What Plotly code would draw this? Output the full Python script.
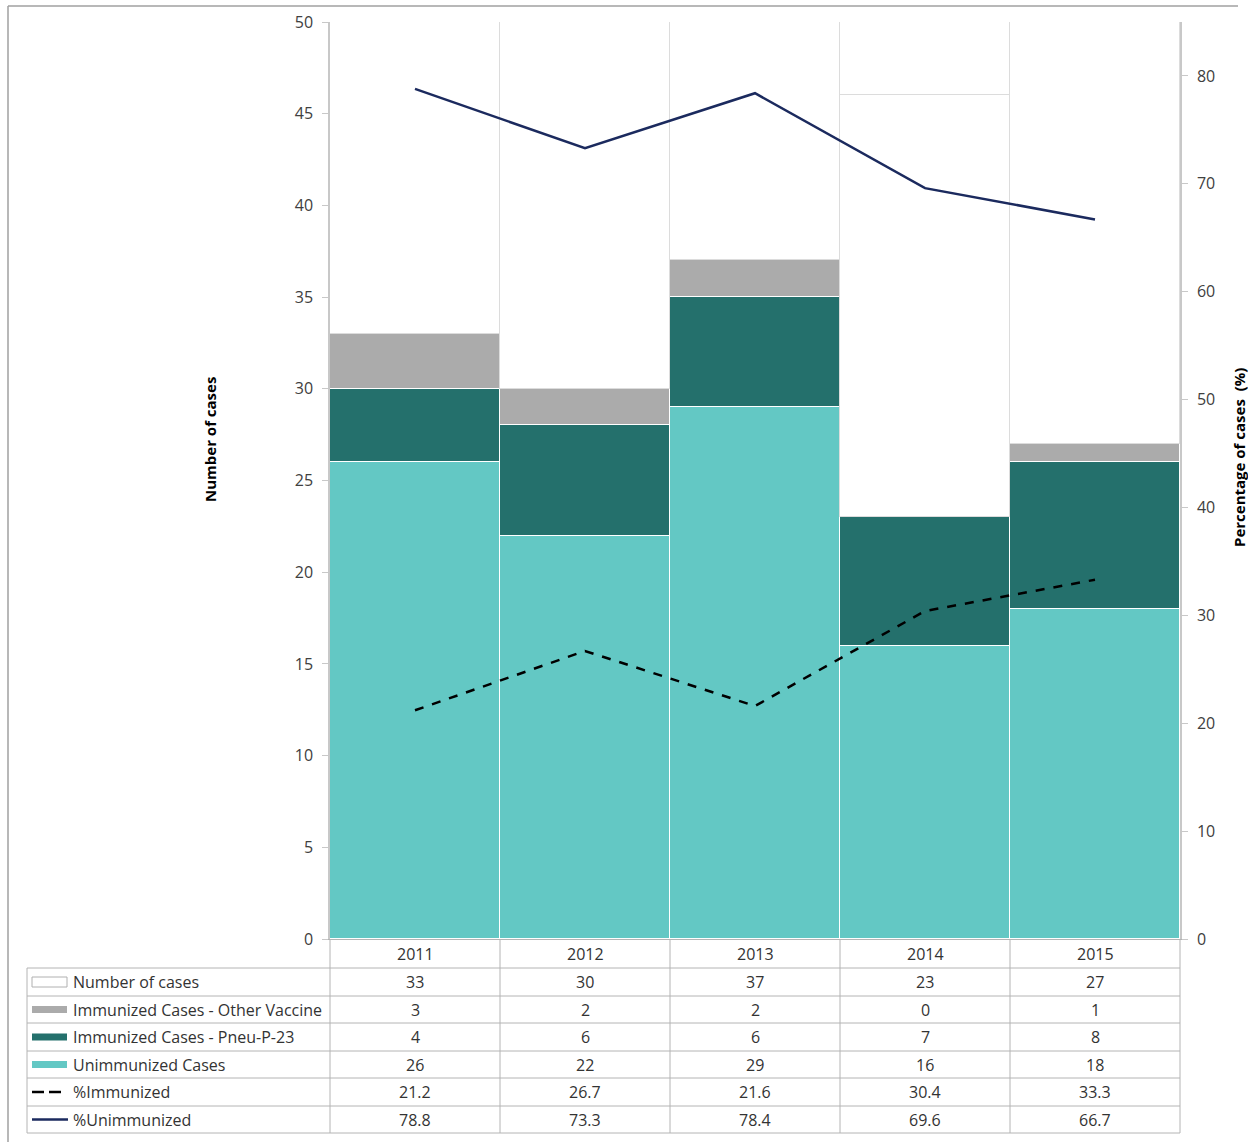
import plotly.graph_objects as go

years = ["2011", "2012", "2013", "2014", "2015"]
number_of_cases = [33, 30, 37, 23, 27]
immunized_other = [3, 2, 2, 0, 1]
immunized_pneu = [4, 6, 6, 7, 8]
unimmunized = [26, 22, 29, 16, 18]
pct_immunized = [21.2, 26.7, 21.6, 30.4, 33.3]
pct_unimmunized = [78.8, 73.3, 78.4, 69.6, 66.7]

W, H = 1248, 1142
def X(px): return px / W
def Y(py): return 1 - py / H

C_UNIMM = "#63C8C4"
C_PNEU = "#24706C"
C_OTHER = "#ABABAB"
C_NAVY = "#1B2A5E"
FONT = "Open Sans"

fig = go.Figure()
fig.add_bar(x=years, y=unimmunized, marker=dict(color=C_UNIMM, line=dict(color="white", width=1.5)), name="Unimmunized Cases")
fig.add_bar(x=years, y=immunized_pneu, marker=dict(color=C_PNEU, line=dict(color="white", width=1.5)), name="Immunized Cases - Pneu-P-23")
fig.add_bar(x=years, y=immunized_other, marker=dict(color=C_OTHER, line=dict(color="white", width=1.5)), name="Immunized Cases - Other Vaccine")
fig.add_bar(x=years, y=number_of_cases, marker=dict(color="white", line=dict(color="#DCDCDC", width=1)), name="Number of cases")
fig.add_scatter(x=years, y=pct_immunized, yaxis="y2", mode="lines",
                line=dict(color="black", width=2.5, dash="dash"), name="%Immunized")
fig.add_scatter(x=years, y=pct_unimmunized, yaxis="y2", mode="lines",
                line=dict(color=C_NAVY, width=2.5), name="%Unimmunized")

x_left, x_right = 330, 1180
y_top, y_bot = 22, 939

fig.update_layout(
    template="none",
    width=W, height=H, margin=dict(l=0, r=0, t=0, b=0, pad=0, autoexpand=False),
    paper_bgcolor="white", plot_bgcolor="white",
    barmode="stack", bargap=0, showlegend=False,
    font=dict(family=FONT, size=16, color="#404040"),
    xaxis=dict(domain=[X(x_left), X(x_right)], showticklabels=False, ticks="", automargin=False,
               showgrid=False, zeroline=False, showline=True, linecolor="#B4B4B4", linewidth=1),
    yaxis=dict(domain=[Y(y_bot), Y(y_top)], range=[0, 50], dtick=5, automargin=False,
               showgrid=False, zeroline=False, showline=True, linecolor="#C8C8C8",
               linewidth=1.5, ticks="outside", ticklen=6, tickcolor="#C8C8C8",
               ticklabelstandoff=6,
               tickfont=dict(size=16, color="#404040")),
    yaxis2=dict(overlaying="y", side="right", range=[0, 85], dtick=10, automargin=False,
                showgrid=False, zeroline=False, showline=True, linecolor="#C8C8C8",
                linewidth=1.5, ticks="outside", ticklen=6, tickcolor="#C8C8C8",
                ticklabelstandoff=6,
                tickfont=dict(size=16, color="#404040")),
)

shapes = []
ann = []

def text(px, py, s, size=16, color="#333333", xanchor="center", angle=0):
    ann.append(dict(x=X(px), y=Y(py), xref="paper", yref="paper", text=s, showarrow=False,
                    xanchor=xanchor, yanchor="middle", textangle=angle,
                    font=dict(size=size, color=color)))

# axis titles
text(210, 440, "<b>Number of cases</b>", size=15, color="black", angle=-90)
text(1239, 458, "<b>Percentage of cases  (%)</b>", size=15, color="black", angle=-90)

# outer frame
shapes.append(dict(type="line", xref="paper", yref="paper", x0=X(8), x1=X(1238), y0=Y(6), y1=Y(6),
                   line=dict(color="#A0A0A0", width=1.5)))
shapes.append(dict(type="line", xref="paper", yref="paper", x0=X(8), x1=X(8), y0=Y(6), y1=0,
                   line=dict(color="#A0A0A0", width=1.5)))

# table
col_edges = [330, 500, 670, 840, 1010, 1180]
row_edges = [968, 996, 1023, 1051, 1078, 1106, 1133]
TL = "#B4B4B4"
for ry in row_edges:
    shapes.append(dict(type="line", xref="paper", yref="paper", x0=X(27), x1=X(1180), y0=Y(ry), y1=Y(ry),
                       line=dict(color=TL, width=1)))
shapes.append(dict(type="line", xref="paper", yref="paper", x0=X(27), x1=X(27), y0=Y(968), y1=Y(1133),
                   line=dict(color=TL, width=1)))
for cx in col_edges:
    shapes.append(dict(type="line", xref="paper", yref="paper", x0=X(cx), x1=X(cx), y0=Y(939), y1=Y(1133),
                       line=dict(color=TL, width=1)))

# header years
for i, yr in enumerate(years):
    cx = (col_edges[i] + col_edges[i + 1]) / 2
    text(cx, 954, yr)

rows = [
    ("Number of cases", number_of_cases, "box_white"),
    ("Immunized Cases - Other Vaccine", immunized_other, C_OTHER),
    ("Immunized Cases - Pneu-P-23", immunized_pneu, C_PNEU),
    ("Unimmunized Cases", unimmunized, C_UNIMM),
    ("%Immunized", pct_immunized, "dash"),
    ("%Unimmunized", pct_unimmunized, "solid"),
]
for r, (label, vals, key) in enumerate(rows):
    cy = (row_edges[r] + row_edges[r + 1]) / 2
    if key == "box_white":
        shapes.append(dict(type="rect", xref="paper", yref="paper", x0=X(32), x1=X(67), y0=Y(cy - 5), y1=Y(cy + 5),
                           fillcolor="white", line=dict(color="#B0B0B0", width=1)))
    elif key == "dash":
        for a, b in [(32, 44), (49, 61)]:
            shapes.append(dict(type="line", xref="paper", yref="paper", x0=X(a), x1=X(b), y0=Y(cy), y1=Y(cy),
                               line=dict(color="black", width=2.5)))
    elif key == "solid":
        shapes.append(dict(type="line", xref="paper", yref="paper", x0=X(32), x1=X(68), y0=Y(cy), y1=Y(cy),
                           line=dict(color=C_NAVY, width=2.5)))
    else:
        shapes.append(dict(type="rect", xref="paper", yref="paper", x0=X(32), x1=X(67), y0=Y(cy - 3.5), y1=Y(cy + 3.5),
                           fillcolor=key, line=dict(width=0)))
    text(71, cy, label, xanchor="left")
    for i, v in enumerate(vals):
        cx = (col_edges[i] + col_edges[i + 1]) / 2
        text(cx, cy, str(v))

fig.update_layout(shapes=shapes, annotations=ann)
post = (
    "document.documentElement.style.margin='0';document.documentElement.style.padding='0';"
    "document.documentElement.style.overflow='hidden';"
    "document.body.style.margin='0';document.body.style.padding='0';document.body.style.overflow='hidden';"
    "var gd=document.getElementById('{plot_id}');"
    "gd.style.position='fixed';gd.style.top='0px';gd.style.left='0px';"
)
fig.write_html("out.html", config={"displayModeBar": False}, post_script=post)
